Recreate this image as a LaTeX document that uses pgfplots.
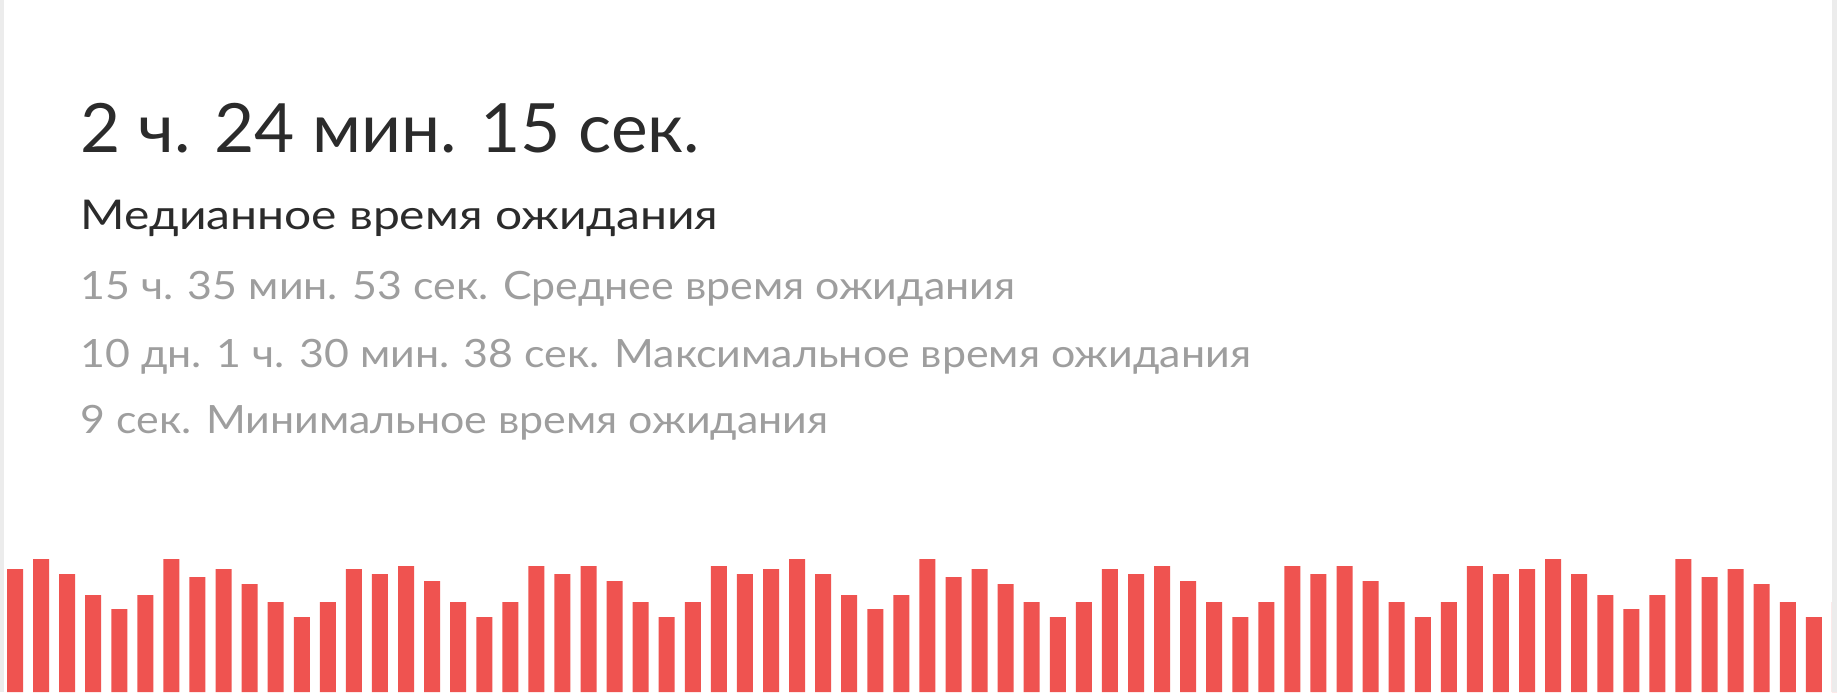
\documentclass[border=0pt]{standalone}
\usepackage{pgfplots}
\pgfplotsset{compat=1.18}
\usepackage{fontspec}
\setmainfont{Lato}
\newfontfamily\titlefont[FakeStretch=1.02]{Lato}
\newfontfamily\subfont[FakeStretch=1.17]{Lato}
\newfontfamily\grayfont[FakeStretch=1.10]{Lato}
\definecolor{barred}{HTML}{EF5350}
\definecolor{titlegray}{HTML}{2B2B2B}
\definecolor{textgray}{HTML}{9E9E9E}
\definecolor{edgegray}{HTML}{ECECEC}
\begin{document}
\begin{tikzpicture}[x=1pt,y=1pt]
  % card background, 1px = 0.5pt
  \fill[white] (0,0) rectangle (918.5,346);
  \begin{axis}[
      at={(0,0)}, anchor=south west,
      width=918.5pt, height=346pt, scale only axis,
      hide axis,
      xmin=0.4246, xmax=70.89,
      ymin=0, ymax=692,
      ybar, bar width=8pt,
    ]
    % waiting-time histogram (heights in px of the reference)
    \addplot[fill=barred, draw=none] coordinates {
      (1,123) (2,133) (3,118) (4,97) (5,83) (6,97) (7,133) (8,115) (9,123) (10,108)
      (11,90) (12,75) (13,90) (14,123) (15,118) (16,126) (17,111) (18,90) (19,75) (20,90)
      (21,126) (22,118) (23,126) (24,111) (25,90) (26,75) (27,90) (28,126) (29,118)
      (30,123) (31,133) (32,118) (33,97) (34,83) (35,97) (36,133) (37,115) (38,123) (39,108)
      (40,90) (41,75) (42,90) (43,123) (44,118) (45,126) (46,111) (47,90) (48,75) (49,90)
      (50,126) (51,118) (52,126) (53,111) (54,90) (55,75) (56,90) (57,126) (58,118)
      (59,123) (60,133) (61,118) (62,97) (63,83) (64,97) (65,133) (66,115) (67,123) (68,108)
      (69,90) (70,75) (71,90)
    };
  \end{axis}
  % card edges
  \fill[edgegray] (0,0) rectangle (2,346);
  \fill[edgegray] (916,0) rectangle (918.5,346);
  % texts
  \node[anchor=base west, inner sep=0pt, text=titlegray, font=\titlefont\fontsize{34}{40}\selectfont] at (40,269.5) {2 ч. 24 мин. 15 сек.};
  \node[anchor=base west, inner sep=0pt, text=titlegray, font=\subfont\fontsize{20.5}{24}\selectfont] at (40,231) {Медианное время ожидания};
  \node[anchor=base west, inner sep=0pt, text=textgray, font=\grayfont\fontsize{19.5}{22}\selectfont] at (40,196.5) {15 ч. 35 мин. 53 сек. Среднее время ожидания};
  \node[anchor=base west, inner sep=0pt, text=textgray, font=\grayfont\fontsize{19.5}{22}\selectfont] at (40,162.5) {10 дн. 1 ч. 30 мин. 38 сек. Максимальное время ожидания};
  \node[anchor=base west, inner sep=0pt, text=textgray, font=\grayfont\fontsize{19.5}{22}\selectfont] at (40,129.25) {9 сек. Минимальное время ожидания};
\end{tikzpicture}
\end{document}
